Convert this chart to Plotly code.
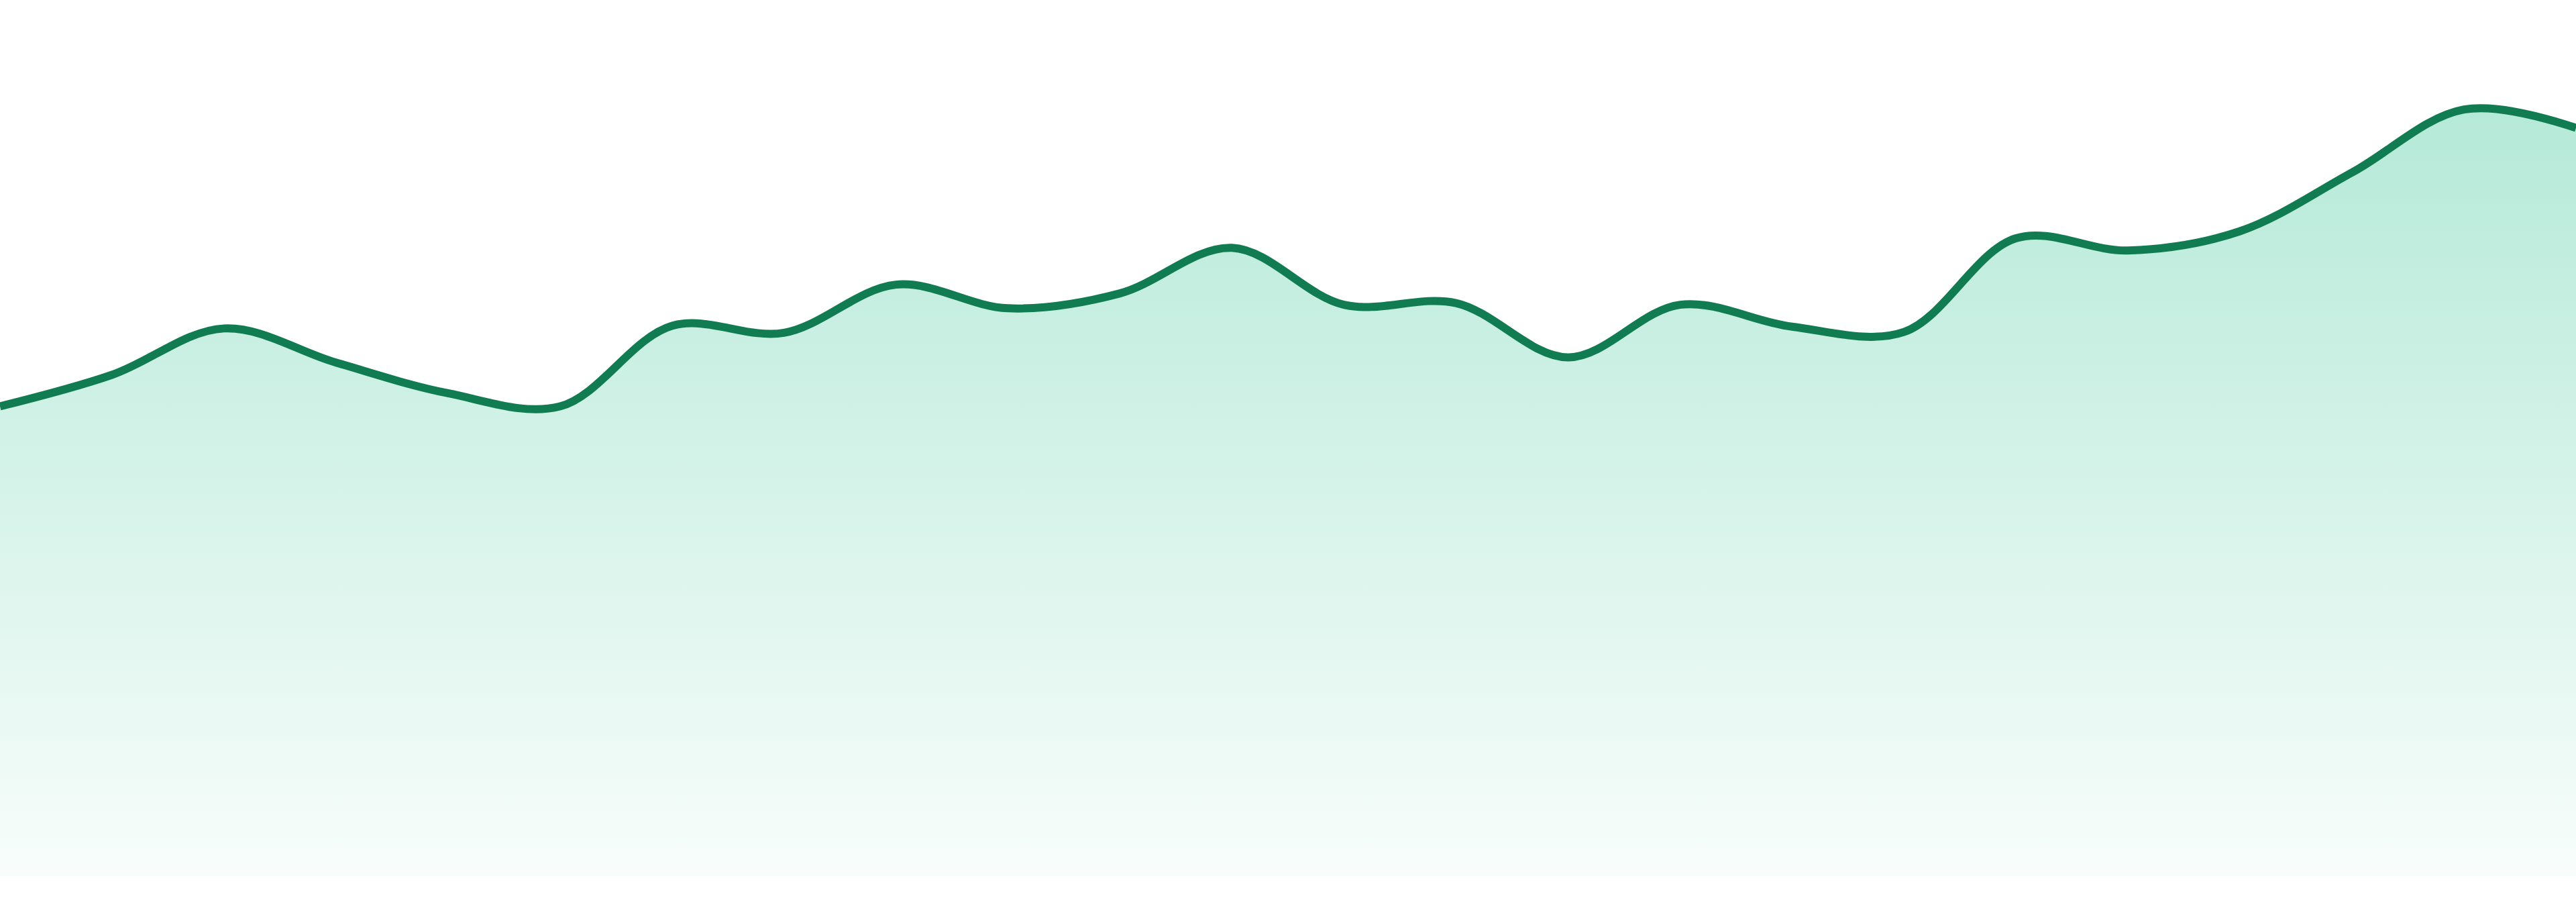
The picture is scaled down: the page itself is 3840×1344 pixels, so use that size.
import plotly.graph_objects as go

# 24 evenly spaced samples
steps = list(range(24))
values = [53.6, 57.2, 62.5, 58.6, 55.1, 53.6, 62.8, 62.0, 67.5, 64.8, 66.5, 71.7,
          65.2, 65.4, 59.2, 65.2, 62.7, 62.1, 72.8, 71.4, 73.6, 80.3, 87.5, 85.4]

line_color = "#117c52"

fig = go.Figure()

fig.add_trace(go.Scatter(
    x=steps,
    y=values,
    mode="lines",
    line=dict(color=line_color, width=12, shape="spline", smoothing=1.0),
    fill="tozeroy",
    fillgradient=dict(
        type="vertical",
        start=0,
        stop=max(values),
        colorscale=[[0, "rgba(16,185,129,0.03)"], [1, "rgba(16,185,129,0.31)"]],
    ),
    hoverinfo="skip",
    showlegend=False,
))

fig.update_xaxes(range=[0, 23], visible=False, showgrid=False, zeroline=False)
fig.update_yaxes(range=[0, 100], visible=False, showgrid=False, zeroline=False)

fig.update_layout(
    width=3840,
    height=1344,
    margin=dict(l=0, r=0, t=0, b=39),
    paper_bgcolor="white",
    plot_bgcolor="white",
)

# body has a default 8px margin, drop it so the chart sits flush with the window
fig.write_html("out.html", config={"displayModeBar": False},
               post_script="document.body.style.margin='0';")
